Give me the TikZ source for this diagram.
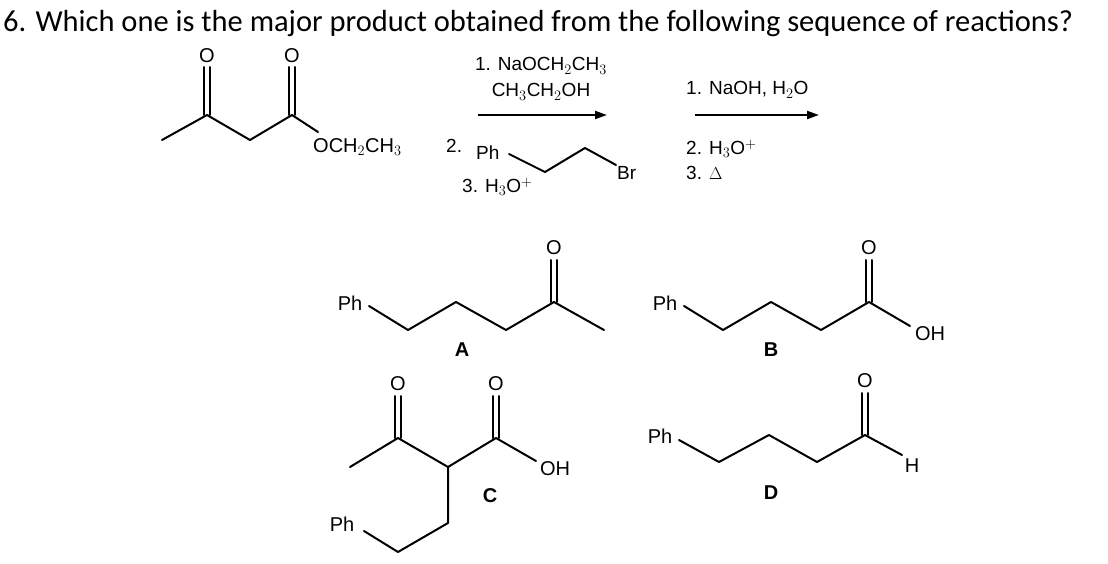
\documentclass[tikz,border=0pt]{standalone}
\usepackage{fontspec}
\setmainfont{Liberation Sans}
\newfontfamily\titlefont{Carlito}
\usetikzlibrary{arrows.meta}
\begin{document}
\begin{tikzpicture}[x=1pt,y=-1pt,
  bond/.style={line width=2pt,line cap=round,line join=round},
  lbl/.style={font=\fontsize{20}{20}\selectfont,inner sep=1pt},
  rg/.style={font=\fontsize{19}{19}\selectfont,inner sep=0pt},
  choice/.style={font=\bfseries\fontsize{20}{20}\selectfont},
  rarrow/.style={line width=2pt,-{Triangle[length=12pt,width=8pt]}}]
\useasboundingbox (0,0) rectangle (1108,564);
\fill[white] (0,0) rectangle (1108,564);
\node[anchor=west,font=\titlefont\fontsize{30.5}{30.5}\selectfont,inner sep=0pt] (title) at (3,24) {6. Which one is the major product obtained from the following sequence of reactions?};
% starting material
\draw[bond] (162,140)--(207,115)--(250,140)--(292,115)--(318,132);
\draw[bond] (204,115)--(204,67) (210,115)--(210,67);
\draw[bond] (289,115)--(289,67) (295,115)--(295,67);
\node[lbl] (o1) at (207,56) {O};
\node[lbl] (o2) at (292,56) {O};
\node[lbl,anchor=west] (oet) at (312,147) {OCH$_2$CH$_3$};
% reagents 1
\node[rg] (r1a) at (541,66) {1. NaOCH$_2$CH$_3$};
\node[rg] (r1b) at (541,92) {CH$_3$CH$_2$OH};
\coordinate (a1s) at (478,115); \coordinate (a1e) at (607,115);
\draw[rarrow] (a1s)--(a1e);
\node[rg,anchor=west] (r2) at (446,146) {2.};
\node[rg,anchor=west] (ph0) at (476,153) {Ph};
\draw[bond] (509,154)--(545,172)--(585,148)--(616,165);
\node[rg,anchor=west] (br) at (617,173) {Br};
\node[rg,anchor=west] (r3) at (462,187) {3. H$_3$O$^+$};
% reagents 2
\node[rg,anchor=west] (s1) at (686,90) {1. NaOH, H$_2$O};
\coordinate (a2s) at (695,115); \coordinate (a2e) at (819,115);
\draw[rarrow] (a2s)--(a2e);
\node[rg,anchor=west] (s2) at (686,149) {2. H$_3$O$^+$};
\node[rg,anchor=west] (s3) at (686,173) {3. $\Delta$};
% A
\node[lbl] (phA) at (350,303) {Ph};
\draw[bond] (369,306)--(408,330)--(456,302)--(506,330)--(554,302)--(604,330);
\draw[bond] (551,302)--(551,260) (557,302)--(557,260);
\node[lbl] (oA) at (554,248) {O};
\node[choice] (A) at (462,350) {A};
% B
\node[lbl] (phB) at (665,303) {Ph};
\draw[bond] (684,306)--(723,330)--(771,302)--(821,330)--(869,302)--(910,326);
\draw[bond] (866,302)--(866,260) (872,302)--(872,260);
\node[lbl] (oB) at (869,248) {O};
\node[lbl] (ohB) at (930,334) {OH};
\node[choice] (B) at (771,350) {B};
% C
\draw[bond] (350,467)--(398,438)--(448,467)--(496,438)--(536,461);
\draw[bond] (448,467)--(448,523)--(398,552)--(364,531);
\draw[bond] (395,438)--(395,396) (401,438)--(401,396);
\draw[bond] (493,438)--(493,396) (499,438)--(499,396);
\node[lbl] (oC1) at (398,384) {O};
\node[lbl] (oC2) at (496,384) {O};
\node[lbl] (ohC) at (555,469) {OH};
\node[lbl] (phC) at (342,524) {Ph};
\node[choice] (C) at (490,496) {C};
% D
\node[lbl] (phD) at (660,436) {Ph};
\draw[bond] (679,440)--(719,462)--(769,435)--(817,462)--(865,435)--(902,455);
\draw[bond] (862,435)--(862,393) (868,435)--(868,393);
\node[lbl] (oD) at (865,381) {O};
\node[lbl] (hD) at (912,466) {H};
\node[choice] (D) at (771,493) {D};
\end{tikzpicture}
\end{document}
